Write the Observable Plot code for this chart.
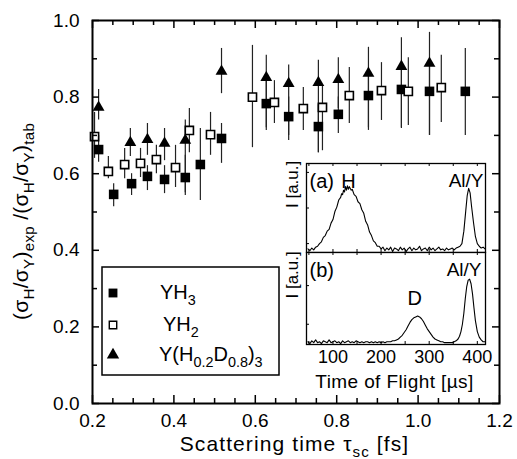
<!DOCTYPE html>
<html><head><meta charset="utf-8">
<script src="https://cdn.jsdelivr.net/npm/d3@7"></script>
<script src="https://cdn.jsdelivr.net/npm/@observablehq/plot@0.6"></script>
<style>
body{margin:0;background:#fff;}
#wrap{position:relative;width:517px;height:459px;font-family:"Liberation Sans",Arial,sans-serif;}
#wrap svg{position:absolute;overflow:visible;}
</style></head><body><div id="wrap"></div>
<script>
// ---------- main plot data ----------
const tauYH3   = [0.215,0.252,0.296,0.335,0.377,0.428,0.465,0.517,0.627,0.682,0.755,0.804,0.878,0.959,1.028,1.116];
const ratioYH3 = [0.663,0.546,0.574,0.593,0.585,0.590,0.624,0.692,0.783,0.749,0.723,0.755,0.804,0.820,0.815,0.815];
const loYH3    = [0.630,0.514,0.543,0.556,0.548,0.543,0.530,0.627,0.713,0.687,0.655,0.705,0.713,0.718,0.700,0.700];
const hiYH3    = [0.700,0.574,0.600,0.621,0.621,0.648,0.718,0.731,0.850,0.800,0.780,0.800,0.860,0.880,0.890,0.927];

const tauYH2   = [0.205,0.239,0.279,0.318,0.357,0.404,0.438,0.490,0.593,0.647,0.718,0.765,0.831,0.910,0.976,1.057];
const ratioYH2 = [0.697,0.606,0.624,0.627,0.637,0.616,0.713,0.702,0.800,0.786,0.770,0.773,0.804,0.817,0.815,0.825];
const loYH2    = [0.640,0.587,0.587,0.590,0.600,0.564,0.655,0.648,0.668,0.731,0.713,0.660,0.731,0.739,0.726,0.734];
const hiYH2    = [0.760,0.645,0.666,0.666,0.674,0.674,0.770,0.760,0.935,0.843,0.825,0.830,0.877,0.890,0.903,0.909];

const tauYHD   = [0.215,0.293,0.335,0.377,0.428,0.517,0.627,0.682,0.755,0.804,0.878,0.959,1.028];
const ratioYHD = [0.773,0.681,0.689,0.679,0.687,0.867,0.851,0.835,0.838,0.846,0.862,0.880,0.888];
const loYHD    = [0.740,0.645,0.648,0.634,0.550,0.809,0.720,0.700,0.655,0.770,0.720,0.720,0.700];
const hiYHD    = [0.820,0.718,0.731,0.718,0.740,0.927,0.909,0.884,0.896,0.903,0.930,0.955,0.969];

const xLabelTicks = [0.2,0.4,0.6,0.8,1.0,1.2];
const xMinorTicks = [0.25,0.3,0.35,0.45,0.5,0.55,0.65,0.7,0.75,0.85,0.9,0.95,1.05,1.1,1.15];
const yLabelTicks = [0,0.2,0.4,0.6,0.8,1.0];
const yMinorTicks = [0.1,0.3,0.5,0.7,0.9];

// ---------- inset spectra (time of flight in µs, intensity in panel units) ----------
const tofA = [48,52,56,60,64,68,72,76,80,84,88,92,96,100,104,108,112,116,118,120,122,124,126,128,130,132,134,136,138,140,144,148,152,156,160,164,168,172,176,180,184,188,192,196,200,204,208,212,216,220,224,228,232,236,240,244,248,252,256,260,264,268,272,276,280,284,288,292,296,300,304,308,312,316,320,324,328,332,336,340,344,348,352,356,360,364,368,372,376,379,382,385,388,392,396,400,404,408,412,416];
const intA = [0.04,0.02,0.05,0.03,0.06,0.07,0.10,0.12,0.17,0.19,0.24,0.26,0.33,0.37,0.46,0.51,0.59,0.62,0.66,0.65,0.70,0.68,0.74,0.70,0.75,0.71,0.74,0.72,0.70,0.71,0.65,0.63,0.57,0.55,0.48,0.44,0.35,0.31,0.23,0.19,0.13,0.11,0.07,0.07,0.04,0.06,0.02,0.05,0.03,0.06,0.01,0.05,0.04,0.02,0.06,0.03,0.05,0.01,0.04,0.06,0.02,0.05,0.03,0.04,0.07,0.02,0.04,0.05,0.02,0.06,0.03,0.05,0.02,0.04,0.06,0.03,0.04,0.02,0.05,0.03,0.04,0.05,0.03,0.05,0.06,0.07,0.10,0.24,0.47,0.64,0.72,0.67,0.52,0.34,0.18,0.10,0.07,0.05,0.06,0.04];

const tofB = [48,52,56,60,64,68,72,76,80,84,88,92,96,100,104,108,112,116,120,124,128,132,136,140,144,148,152,156,160,164,168,172,176,180,184,188,192,196,200,204,208,212,216,220,224,228,232,236,240,244,248,252,256,260,264,268,272,276,280,284,288,292,296,300,304,308,312,316,320,324,328,332,336,340,344,348,352,356,360,363,366,369,372,375,378,381,384,387,390,393,396,400,404,408,412,416];
const intB = [0.03,0.01,0.04,0.02,0.05,0.02,0.03,0.01,0.04,0.03,0.02,0.05,0.02,0.03,0.04,0.02,0.03,0.01,0.04,0.02,0.03,0.04,0.02,0.03,0.02,0.04,0.03,0.02,0.03,0.02,0.03,0.03,0.02,0.03,0.02,0.03,0.02,0.03,0.02,0.03,0.02,0.03,0.03,0.03,0.04,0.04,0.05,0.06,0.08,0.10,0.13,0.16,0.20,0.24,0.27,0.29,0.30,0.31,0.30,0.28,0.25,0.21,0.17,0.14,0.11,0.08,0.06,0.05,0.04,0.03,0.03,0.02,0.02,0.02,0.02,0.02,0.03,0.04,0.06,0.09,0.14,0.22,0.34,0.50,0.63,0.70,0.71,0.66,0.55,0.40,0.26,0.14,0.08,0.05,0.03,0.03];

const tofLabelTicks = [100,200,300,400];
const tofMinorTicks = [50,150,250,350];

// ---------- build tables ----------
const mk = (t, r, lo, hi) => t.map((v, i) => ({t: v, r: r[i], lo: lo[i], hi: hi[i]}));
const yh3 = mk(tauYH3, ratioYH3, loYH3, hiYH3);
const yh2 = mk(tauYH2, ratioYH2, loYH2, hiYH2);
const yhd = mk(tauYHD, ratioYHD, loYHD, hiYHD);
const specA = tofA.map((t, i) => ({t, v: intA[i]}));
const specB = tofB.map((t, i) => ({t, v: intB[i]}));

const FONT = '"Liberation Sans", Arial, sans-serif';
const W = 517, H = 459, ML = 92, MR = 18, MT = 20, MB = 56;
const PW = W - ML - MR, PH = H - MT - MB;
const bar = {stroke: "#222", strokeWidth: 1.2};

const main = Plot.plot({
  width: W, height: H,
  marginLeft: ML, marginRight: MR, marginTop: MT, marginBottom: MB,
  x: {domain: [0.2, 1.2], axis: null},
  y: {domain: [0, 1], axis: null},
  style: {fontFamily: FONT, fontSize: "18px", color: "#000", background: "transparent", overflow: "visible"},
  marks: [
    Plot.ruleX(yh3, {x: "t", y1: "lo", y2: "hi", ...bar}),
    Plot.ruleX(yh2, {x: "t", y1: "lo", y2: "hi", ...bar}),
    Plot.ruleX(yhd, {x: "t", y1: "lo", y2: "hi", ...bar}),
    Plot.dot(yh3, {x: "t", y: "r", symbol: "square", r: 5.4, fill: "#000", stroke: null}),
    Plot.dot(yh2, {x: "t", y: "r", symbol: "square", r: 4.6, fill: "#fff", stroke: "#000", strokeWidth: 1.6}),
    Plot.dot(yhd, {x: "t", y: "r", symbol: "triangle", r: 4.4, fill: "#000", stroke: null}),
    // inward ticks
    Plot.tickX(xMinorTicks, {x: d => d, insetTop: PH - 5, strokeWidth: 1.5}),
    Plot.tickX(xMinorTicks, {x: d => d, insetBottom: PH - 5, strokeWidth: 1.5}),
    Plot.tickX(xLabelTicks, {x: d => d, insetTop: PH - 8, strokeWidth: 1.5}),
    Plot.tickX(xLabelTicks, {x: d => d, insetBottom: PH - 8, strokeWidth: 1.5}),
    Plot.tickY(yMinorTicks, {y: d => d, insetRight: PW - 5, strokeWidth: 1.5}),
    Plot.tickY(yMinorTicks, {y: d => d, insetLeft: PW - 5, strokeWidth: 1.5}),
    Plot.tickY(yLabelTicks, {y: d => d, insetRight: PW - 7, strokeWidth: 1.5}),
    Plot.tickY(yLabelTicks, {y: d => d, insetLeft: PW - 7, strokeWidth: 1.5}),
    Plot.axisX({ticks: xLabelTicks, tickSize: 0, tickPadding: 10, tickFormat: d3.format(".1f"), label: null, fontSize: 19}),
    Plot.axisY({ticks: yLabelTicks, tickSize: 0, tickPadding: 13, tickFormat: d3.format(".1f"), label: null, fontSize: 19}),
    Plot.frame({stroke: "#000", strokeWidth: 2})
  ]
});
main.style.left = "0px"; main.style.top = "0px";
document.getElementById("wrap").appendChild(main);

// rich text helper (subscripts)
function rich(sel, parts, size) {
  let low = false;
  const sh = size * 0.3;
  for (const [txt, kind] of parts) {
    const ts = sel.append("tspan").text(txt);
    if (kind === "s") {
      ts.attr("font-size", size * 0.72);
      if (!low) { ts.attr("dy", sh); low = true; }
    } else if (low) { ts.attr("dy", -sh); low = false; }
  }
  return sel;
}
const svg = d3.select(main);
const g = svg.append("g").attr("font-family", FONT).attr("fill", "#000");
// x axis title
rich(g.append("text").attr("x", ML + PW / 2 - 1).attr("y", 451).attr("text-anchor", "middle")
  .attr("font-size", 21).attr("letter-spacing", 1.1),
  [["Scattering time τ", "n"], ["sc", "s"], [" [fs]", "n"]], 21);
// y axis title
rich(g.append("text").attr("transform", `translate(28,${MT + PH / 2 + 10}) rotate(-90)`).attr("text-anchor", "middle")
  .attr("font-size", 21).attr("letter-spacing", 0.3),
  [["(σ", "n"], ["H", "s"], ["/σ", "n"], ["Y", "s"], [")", "n"], ["exp", "s"], [" /(σ", "n"], ["H", "s"], ["/σ", "n"], ["Y", "s"], [")", "n"], ["tab", "s"]], 21);

// legend
const leg = g.append("g").attr("text-anchor", "start");
leg.append("rect").attr("x", 102).attr("y", 267).attr("width", 177).attr("height", 108)
  .attr("fill", "#fff").attr("stroke", "#000").attr("stroke-width", 1.5);
const legItems = [
  {sym: d3.symbolSquare, r: 5, fill: "#000", stroke: "none", y: 293, parts: [["YH", "n"], ["3", "s"]], tx: 160},
  {sym: d3.symbolSquare, r: 4.2, fill: "#fff", stroke: "#000", y: 325, parts: [["YH", "n"], ["2", "s"]], tx: 163},
  {sym: d3.symbolTriangle, r: 4.6, fill: "#000", stroke: "none", y: 355, parts: [["Y(H", "n"], ["0.2", "s"], ["D", "n"], ["0.8", "s"], [")", "n"], ["3", "s"]], tx: 159}
];
for (const it of legItems) {
  leg.append("path").attr("d", d3.symbol(it.sym, Math.PI * it.r * it.r)())
    .attr("transform", `translate(113,${it.y})`).attr("fill", it.fill).attr("stroke", it.stroke).attr("stroke-width", 1.4);
  rich(leg.append("text").attr("x", it.tx).attr("y", it.y + 6).attr("font-size", 20).attr("text-anchor", "start"), it.parts, 20);
}

// ---------- inset ----------
const tofDomain = [45, 417];
function inset(spec, opts) {
  const h = opts.height, mt = 1, mb = opts.mb, ml = 17, mr = 1;
  const ph = h - mt - mb, pw = 197 - ml - mr;
  const marks = [
    Plot.frame({fill: "#fff", stroke: null}),
    Plot.line(spec, {x: "t", y: "v", stroke: "#000", strokeWidth: 1.1}),
    Plot.tickX(tofMinorTicks.concat(tofLabelTicks), {x: d => d, insetTop: ph - 3, strokeWidth: 1}),
    Plot.tickX(tofMinorTicks.concat(tofLabelTicks), {x: d => d, insetBottom: ph - 3, strokeWidth: 1}),
    Plot.tickY(opts.yt, {y: d => d, insetRight: pw - 3, strokeWidth: 1}),
    Plot.frame({stroke: "#000", strokeWidth: 1.3}),
    Plot.text(["I [a.u.]"], {frameAnchor: "left", dx: -14, rotate: -90, fontSize: 17}),
    ...opts.extra
  ];
  const p = Plot.plot({
    width: 197, height: h, marginLeft: ml, marginRight: mr, marginTop: mt, marginBottom: mb,
    x: {domain: tofDomain, axis: null}, y: {domain: [0, 1], axis: null},
    style: {fontFamily: FONT, fontSize: "17px", color: "#000", background: "transparent", overflow: "visible"},
    marks
  });
  p.style.left = "289px"; p.style.top = opts.top + "px";
  document.getElementById("wrap").appendChild(p);
  return p;
}
inset(specA, {height: 91, mb: 1, top: 162, yt: [0.1, 0.5, 0.9], extra: [
  Plot.text(["(a)"], {frameAnchor: "top-left", dx: 3, dy: 10, fontSize: 20}),
  Plot.text(["H"], {x: [132], frameAnchor: "top", dy: 10, fontSize: 20}),
  Plot.text(["Al/Y"], {frameAnchor: "top-right", dx: -2, dy: 10, fontSize: 19})
]});
const pb = inset(specB, {height: 145, mb: 52, top: 251, yt: [0.22, 0.64], extra: [
  Plot.text(["(b)"], {frameAnchor: "top-left", dx: 3, dy: 10, fontSize: 20}),
  Plot.text(["D"], {x: [270], y: [0.5], fontSize: 20}),
  Plot.text(["Al/Y"], {frameAnchor: "top-right", dx: -4, dy: 10, fontSize: 19}),
  Plot.axisX({ticks: tofLabelTicks, tickSize: 0, tickPadding: 6, label: null, fontSize: 18})
]});
// inset x title
d3.select(pb).append("text").attr("x", 17 + 179 / 2 - 1).attr("y", 137)
  .attr("text-anchor", "middle").attr("font-family", FONT).attr("font-size", 19)
  .attr("letter-spacing", 0.4).attr("fill", "#000").text("Time of Flight [µs]");
</script></body></html>
